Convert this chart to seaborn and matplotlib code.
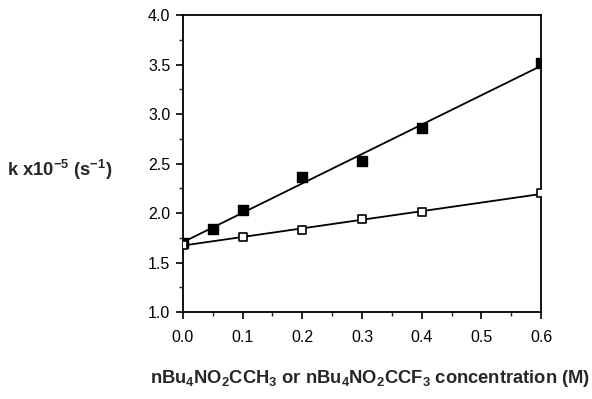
import numpy as np
import pandas as pd
import matplotlib
matplotlib.use("Agg")
import matplotlib.pyplot as plt
from matplotlib.ticker import MultipleLocator
import seaborn as sns

# Data
conc_acetate = [0.0, 0.05, 0.1, 0.2, 0.3, 0.4, 0.6]
k_acetate = [1.70, 1.84, 2.03, 2.36, 2.53, 2.86, 3.52]
conc_tfa = [0.0, 0.1, 0.2, 0.3, 0.4, 0.6]
k_tfa = [1.68, 1.76, 1.83, 1.94, 2.01, 2.20]

x_ticks = [0.0, 0.1, 0.2, 0.3, 0.4, 0.5, 0.6]
y_ticks = [1.0, 1.5, 2.0, 2.5, 3.0, 3.5, 4.0]

sns.set_style("ticks")
plt.rcParams['font.family'] = ['Liberation Sans', 'DejaVu Sans']
plt.rcParams['mathtext.fontset'] = 'custom'
plt.rcParams['mathtext.rm'] = 'Liberation Sans'
plt.rcParams['mathtext.bf'] = 'Liberation Sans:bold'

fig = plt.figure(figsize=(5.92, 3.99), dpi=100)
ax = fig.add_axes([0.309, 0.218, 0.605, 0.744])

df_a = pd.DataFrame({"x": conc_acetate, "y": k_acetate})
df_t = pd.DataFrame({"x": conc_tfa, "y": k_tfa})

sns.regplot(data=df_a, x="x", y="y", ax=ax, ci=None, truncate=True,
            marker="s",
            scatter_kws=dict(s=45, color="black", edgecolors="black",
                             linewidths=1, alpha=1, clip_on=True, zorder=3),
            line_kws=dict(color="black", lw=1.3))
sns.regplot(data=df_t, x="x", y="y", ax=ax, ci=None, truncate=True,
            marker="s",
            scatter_kws=dict(s=40, facecolors="white", edgecolors="black",
                             linewidths=1.2, alpha=1, clip_on=True, zorder=3),
            line_kws=dict(color="black", lw=1.3))

ax.set_xlim(0, 0.6)
ax.set_ylim(1.0, 4.0)
ax.set_xticks(x_ticks)
ax.set_xticklabels([f"{v:.1f}" for v in x_ticks])
ax.set_yticks(y_ticks)
ax.set_yticklabels([f"{v:.1f}" for v in y_ticks])
ax.xaxis.set_minor_locator(MultipleLocator(0.05))
ax.yaxis.set_minor_locator(MultipleLocator(0.25))
ax.tick_params(axis="both", which="major", direction="out", length=5,
               width=1.2, labelsize=11.5, colors="black")
ax.tick_params(axis="both", which="minor", direction="out", length=3,
               width=1.0)
ax.tick_params(axis="x", pad=8)
ax.tick_params(axis="y", pad=4)
for s in ax.spines.values():
    s.set_visible(True)
    s.set_linewidth(1.3)
    s.set_color("black")

ax.set_xlabel("")
ax.set_ylabel("")
fig.text(0.625, 0.052,
         r"nBu$_\mathbf{4}$NO$_\mathbf{2}$CCH$_\mathbf{3}$ or nBu$_\mathbf{4}$NO$_\mathbf{2}$CCF$_\mathbf{3}$ concentration (M)",
         ha="center", va="center", fontsize=13.2, fontweight="bold")
fig.text(0.19, 0.574, r"k x10$^\mathbf{-5}$ (s$^\mathbf{-1}$)",
         ha="right", va="center", fontsize=13.2, fontweight="bold")

fig.savefig("out.png", dpi=100)
